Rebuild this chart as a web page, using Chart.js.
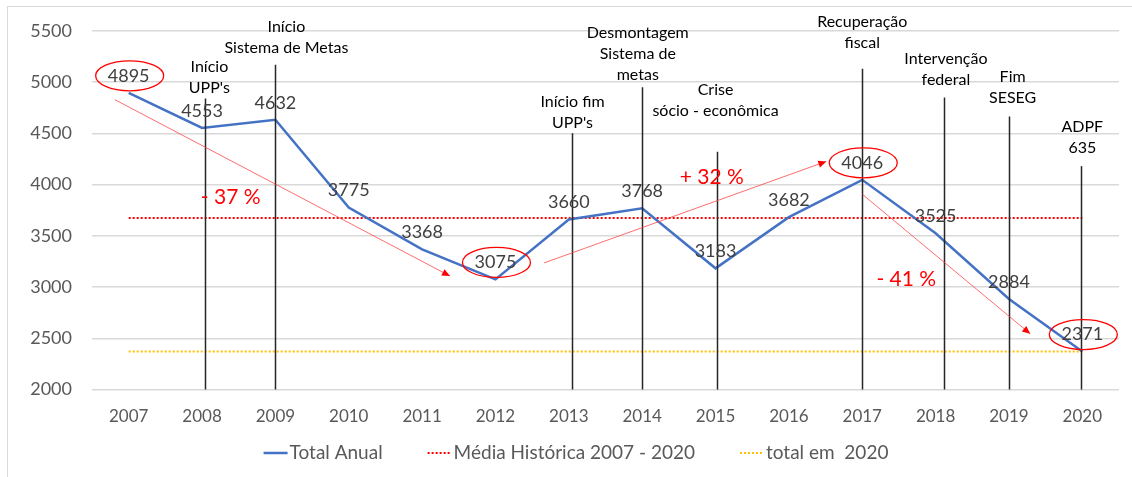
<!DOCTYPE html>
<html>
<head>
<meta charset="utf-8">
<script src="https://cdn.jsdelivr.net/npm/chart.js@4"></script>
<style>
  html, body { margin: 0; padding: 0; background: #fff; overflow: hidden; }
  #frame { position: absolute; left: 7px; top: 6px; width: 1140px; height: 490px; border: 1px solid #d9d9d9; }
  canvas { position: absolute; left: 0; top: 0; }
</style>
</head>
<body>
<div id="frame"></div>
<canvas id="grafico" width="1132" height="477"></canvas>
<script>
// Dados
const anos = ['2007', '2008', '2009', '2010', '2011', '2012', '2013', '2014', '2015', '2016', '2017', '2018', '2019', '2020'];
const totalAnual = [4895, 4553, 4632, 3775, 3368, 3075, 3660, 3768, 3183, 3682, 4046, 3525, 2884, 2371];
const mediaHistorica = [3673, 3673, 3673, 3673, 3673, 3673, 3673, 3673, 3673, 3673, 3673, 3673, 3673, 3673];
const totalEm2020 = [2371, 2371, 2371, 2371, 2371, 2371, 2371, 2371, 2371, 2371, 2371, 2371, 2371, 2371];

// Marcos (linhas verticais + textos)
const marcoIndice = [1, 2, 6, 7, 8, 10, 11, 12, 13];
const marcoDesvio = [0.04, 0, 0.05, 0, 0.02, 0, 0.12, 0, -0.02];
const marcoTopo = [4840, 5170, 4500, 4950, 4320, 5130, 4850, 4665, 4180];
const marcoTexto = [
    ['Início', "UPP's"],
    ['Início', 'Sistema de Metas'],
    ['Início fim', "UPP's"],
    ['Desmontagem', 'Sistema de', 'metas'],
    ['Crise', 'sócio - econômica'],
    ['Recuperação', 'fiscal'],
    ['Intervenção', 'federal'],
    ['Fim', 'SESEG'],
    ['ADPF', '635']
];
const marcoTextoValor = [4946, 5335, 4606, 5072, 4722, 5383, 5024, 4849, 4363];
const marcoTextoDesvio = [0.1, 0.15, 0.05, -0.06, 0, 0, 0.14, 0.05, 0];

// Destaques em vermelho
const destaqueIndice = [0, 5, 10, 13];
const setaInicio = [[-0.19, 4829], [5.66, 3235], [10.0, 3906]];
const setaFim = [[4.38, 3108], [9.51, 4226], [12.29, 2544]];
const variacaoTexto = ['- 37 %', '+ 32 %', '- 41 %'];
const variacaoPos = [[1.39, 3876], [7.95, 4071], [10.6, 3079]];

const FONTE = "Lato, 'Open Sans', sans-serif";

const anotacoes = {
    id: 'anotacoes',
    afterDatasetsDraw(chart) {
        const ctx = chart.ctx;
        const x = chart.scales.x;
        const y = chart.scales.y;
        const px = v => x.getPixelForValue(0) + v * (x.getPixelForValue(1) - x.getPixelForValue(0));
        ctx.save();

        // linhas verticais
        ctx.strokeStyle = '#262626';
        ctx.lineWidth = 1.5;
        marcoIndice.forEach((idx, i) => {
            const xx = Math.round(px(idx + marcoDesvio[i])) + 0.5;
            ctx.beginPath();
            ctx.moveTo(xx, y.getPixelForValue(2000));
            ctx.lineTo(xx, y.getPixelForValue(marcoTopo[i]));
            ctx.stroke();
        });

        // textos dos marcos
        ctx.fillStyle = '#000';
        ctx.font = `16px ${FONTE}`;
        ctx.textAlign = 'center';
        ctx.textBaseline = 'middle';
        marcoIndice.forEach((idx, i) => {
            const linhas = marcoTexto[i];
            const cx = px(idx + marcoTextoDesvio[i]);
            const baseY = y.getPixelForValue(marcoTextoValor[i]);
            linhas.forEach((t, j) => {
                ctx.fillText(t, cx, baseY - (linhas.length - 1 - j) * 21);
            });
        });

        // setas
        setaInicio.forEach((ini, i) => {
            const x1 = px(ini[0]), y1 = y.getPixelForValue(ini[1]);
            const x2 = px(setaFim[i][0]), y2 = y.getPixelForValue(setaFim[i][1]);
            ctx.strokeStyle = 'rgba(255, 60, 60, 0.75)';
            ctx.lineWidth = 1;
            ctx.beginPath();
            ctx.moveTo(x1, y1);
            ctx.lineTo(x2, y2);
            ctx.stroke();
            const ang = Math.atan2(y2 - y1, x2 - x1);
            ctx.fillStyle = '#ff0000';
            ctx.beginPath();
            ctx.moveTo(x2, y2);
            ctx.lineTo(x2 - 8 * Math.cos(ang) + 3.5 * Math.sin(ang), y2 - 8 * Math.sin(ang) - 3.5 * Math.cos(ang));
            ctx.lineTo(x2 - 8 * Math.cos(ang) - 3.5 * Math.sin(ang), y2 - 8 * Math.sin(ang) + 3.5 * Math.cos(ang));
            ctx.closePath();
            ctx.fill();
        });

        // variação percentual
        ctx.fillStyle = '#ff0000';
        ctx.font = `21px ${FONTE}`;
        variacaoTexto.forEach((t, i) => {
            ctx.fillText(t, px(variacaoPos[i][0]), y.getPixelForValue(variacaoPos[i][1]));
        });

        // rótulos dos valores
        const meta = chart.getDatasetMeta(0);
        ctx.fillStyle = '#404040';
        ctx.font = `18px ${FONTE}`;
        meta.data.forEach((pt, i) => {
            ctx.fillText(totalAnual[i], pt.x, pt.y - 17);
        });

        // elipses
        ctx.strokeStyle = '#ff0000';
        ctx.lineWidth = 1.3;
        destaqueIndice.forEach(idx => {
            const pt = meta.data[idx];
            ctx.beginPath();
            ctx.ellipse(pt.x + 1, pt.y - 17, 34, 15, 0, 0, Math.PI * 2);
            ctx.stroke();
        });

        ctx.restore();
    }
};

// legenda desenhada à mão (espaçamento igual ao do Excel)
const legenda = {
    id: 'legenda',
    afterDraw(chart) {
        const ctx = chart.ctx;
        const amostra = 24, folga = 2, entre = 45;
        const yMeio = 453;
        ctx.save();
        ctx.font = `19px ${FONTE}`;
        ctx.textBaseline = 'middle';
        ctx.textAlign = 'left';
        const larguras = chart.data.datasets.map(ds => ctx.measureText(ds.label).width);
        const total = larguras.reduce((a, b) => a + b, 0) + chart.data.datasets.length * (amostra + folga) + (chart.data.datasets.length - 1) * entre;
        let cx = chart.width / 2 + 10 - total / 2;
        chart.data.datasets.forEach((ds, i) => {
            ctx.strokeStyle = ds.borderColor;
            ctx.lineWidth = ds.borderWidth;
            ctx.setLineDash(ds.borderDash || []);
            ctx.beginPath();
            ctx.moveTo(cx, yMeio);
            ctx.lineTo(cx + amostra, yMeio);
            ctx.stroke();
            ctx.setLineDash([]);
            ctx.fillStyle = '#595959';
            ctx.fillText(ds.label, cx + amostra + folga, yMeio);
            cx += amostra + folga + larguras[i] + entre;
        });
        ctx.restore();
    }
};

new Chart(document.getElementById('grafico').getContext('2d'), {
    type: 'line',
    data: {
        labels: anos,
        datasets: [
            {
                label: 'Total Anual',
                data: totalAnual,
                borderColor: '#4472c4',
                backgroundColor: '#4472c4',
                borderWidth: 2.5,
                pointRadius: 0,
                tension: 0
            },
            {
                label: 'Média Histórica 2007 - 2020',
                data: mediaHistorica,
                borderColor: '#ff0000',
                backgroundColor: '#ff0000',
                borderWidth: 2,
                borderDash: [2, 2],
                pointRadius: 0
            },
            {
                label: 'total em  2020',
                data: totalEm2020,
                borderColor: '#ffc000',
                backgroundColor: '#ffc000',
                borderWidth: 2,
                borderDash: [2, 2],
                pointRadius: 0
            }
        ]
    },
    options: {
        responsive: false,
        animation: false,
        layout: { padding: { left: 8, right: 13, top: 30, bottom: 33 } },
        scales: {
            x: {
                offset: true,
                grid: { display: false, drawTicks: false },
                border: { display: false },
                ticks: { color: '#595959', font: { size: 17, family: FONTE }, padding: 17 }
            },
            y: {
                min: 2000,
                max: 5500,
                grid: { color: '#d9d9d9', lineWidth: 1.5, drawTicks: false },
                border: { display: false },
                ticks: {
                    stepSize: 500,
                    color: '#595959',
                    font: { size: 18, family: FONTE },
                    padding: 20,
                    callback: v => String(v)
                },
                afterFit(scale) { scale.width = 84; }
            }
        },
        plugins: {
            tooltip: { enabled: false },
            legend: { display: false }
        }
    },
    plugins: [anotacoes, legenda]
});
</script>
</body>
</html>
